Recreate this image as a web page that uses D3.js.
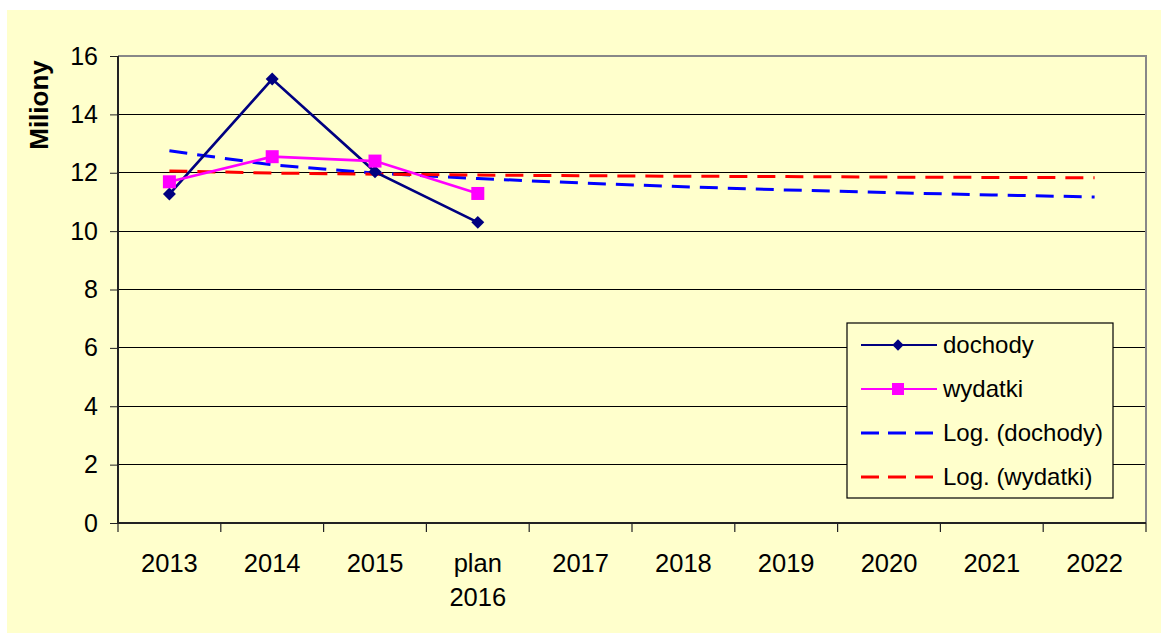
<!DOCTYPE html>
<html lang="pl">
<head>
    <meta charset="UTF-8">
    <script src="https://d3js.org/d3.v7.min.js"></script>
    <title>Dochody i wydatki</title>
    <style>
        body { margin: 0; background: #fff; }
        text { font-family: "Liberation Sans", Arial, sans-serif; fill: #000; }
    </style>
</head>
<body>
    <div id="canvas"></div>
<script>
    // data (millions)
    const categories = ["2013", "2014", "2015", "plan 2016", "2017", "2018", "2019", "2020", "2021", "2022"]
    const dochody = [11.27, 15.21, 12.03, 10.30]
    const wydatki = [11.69, 12.55, 12.40, 11.29]
    const trendDochody = [12.75, 12.27, 11.99, 11.80, 11.65, 11.52, 11.41, 11.32, 11.24, 11.17]
    const trendWydatki = [12.06, 11.99, 11.95, 11.92, 11.90, 11.88, 11.87, 11.85, 11.84, 11.83]
    const yTicks = [0, 2, 4, 6, 8, 10, 12, 14, 16]

    const W = 1161, H = 633
    const margin = {top: 56, right: 15, bottom: 110, left: 118}
    const gW = 1146 - margin.left
    const gH = 523 - margin.top

    const svg = d3.select("#canvas").append("svg").attr("width", W).attr("height", H)
    svg.append("rect").attr("x", 7).attr("y", 10).attr("width", W - 7).attr("height", H - 10)
        .attr("fill", "#ffffcc")

    const g = svg.append("g").attr("transform", `translate(${margin.left},${margin.top})`)

    const x = d3.scaleBand().domain(categories).range([0, gW])
    const y = d3.scaleLinear().domain([0, 16]).range([gH, 0])
    const cx = c => x(c) + x.bandwidth() / 2

    // gridlines
    g.selectAll(".grid").data(yTicks.filter(t => t > 0 && t < 16))
        .enter().append("line")
        .attr("x1", 0).attr("x2", gW)
        .attr("y1", d => y(d)).attr("y2", d => y(d))
        .attr("stroke", "#000").attr("stroke-width", 1)
        .attr("shape-rendering", "crispEdges")

    // plot area border (top / right gray)
    g.append("path")
        .attr("d", `M0,${y(16)}H${gW}V${gH}`)
        .attr("fill", "none").attr("stroke", "#888").attr("stroke-width", 2)

    // axes
    const yAxis = d3.axisLeft(y).tickValues(yTicks).tickSize(8).tickPadding(12)
    const gy = g.append("g").call(yAxis)
    gy.select(".domain").attr("stroke", "#222").attr("stroke-width", 2).attr("d", `M0,0V${gH}`)
    gy.selectAll(".tick line").attr("stroke", "#222")
    gy.selectAll("text").style("font-size", "25px").attr("fill", "#000")

    const gx = g.append("g").attr("transform", `translate(0,${gH})`)
    gx.append("line").attr("x1", 0).attr("x2", gW).attr("stroke", "#222").attr("stroke-width", 2)
    gx.selectAll(".xt").data(d3.range(categories.length + 1))
        .enter().append("line")
        .attr("x1", i => i * x.bandwidth()).attr("x2", i => i * x.bandwidth())
        .attr("y1", 0).attr("y2", 9)
        .attr("stroke", "#222").attr("stroke-width", 1.2)
    gx.selectAll(".xl").data(categories)
        .enter().append("text")
        .attr("text-anchor", "middle")
        .style("font-size", "25.5px")
        .attr("x", d => cx(d))
        .attr("y", 49)
        .each(function(d) {
            const parts = d.split(" ")
            d3.select(this).selectAll("tspan").data(parts).enter().append("tspan")
                .attr("x", cx(d)).attr("dy", (p, i) => i === 0 ? 0 : 34)
                .text(p => p)
        })

    svg.append("text")
        .attr("transform", "translate(48,105) rotate(-90)")
        .attr("text-anchor", "middle")
        .style("font-size", "26px").style("font-weight", "bold")
        .text("Miliony")

    // trend lines
    const line = d3.line().x((d, i) => cx(categories[i])).y(d => y(d))
    g.append("path").datum(trendDochody).attr("d", line)
        .attr("fill", "none").attr("stroke", "#0000ff").attr("stroke-width", 3)
        .attr("stroke-dasharray", "18,10")
    g.append("path").datum(trendWydatki).attr("d", line)
        .attr("fill", "none").attr("stroke", "#ff0000").attr("stroke-width", 3)
        .attr("stroke-dasharray", "18,10")

    // series
    g.append("path").datum(dochody).attr("d", line)
        .attr("fill", "none").attr("stroke", "#000080").attr("stroke-width", 2.7)
    g.append("path").datum(wydatki).attr("d", line)
        .attr("fill", "none").attr("stroke", "#ff00ff").attr("stroke-width", 2.7)

    const diamond = d3.symbol().type(d3.symbolSquare).size(84)
    g.selectAll(".dm").data(dochody).enter().append("path")
        .attr("d", diamond)
        .attr("transform", (d, i) => `translate(${cx(categories[i])},${y(d)}) rotate(45)`)
        .attr("fill", "#000080")
    g.selectAll(".sq").data(wydatki).enter().append("rect")
        .attr("x", (d, i) => cx(categories[i]) - 6.5).attr("y", d => y(d) - 6.5)
        .attr("width", 13).attr("height", 13)
        .attr("fill", "#ff00ff")

    // legend
    const legendItems = [
        {name: "dochody", color: "#000080", dash: null, marker: "diamond"},
        {name: "wydatki", color: "#ff00ff", dash: null, marker: "square"},
        {name: "Log. (dochody)", color: "#0000ff", dash: "18,9", marker: null},
        {name: "Log. (wydatki)", color: "#ff0000", dash: "18,9", marker: null}
    ]
    const lg = svg.append("g").attr("transform", "translate(847,323)")
    lg.append("rect").attr("width", 266).attr("height", 175)
        .attr("fill", "#ffffcc").attr("stroke", "#000").attr("stroke-width", 1.2)
    const row = lg.selectAll(".row").data(legendItems).enter().append("g")
        .attr("transform", (d, i) => `translate(0,${22 + i * 44})`)
    row.append("line").attr("x1", 14).attr("x2", 90)
        .attr("stroke", d => d.color)
        .attr("stroke-width", d => d.dash ? 3 : 2)
        .attr("stroke-dasharray", d => d.dash)
    row.filter(d => d.marker === "diamond").append("path")
        .attr("d", d3.symbol().type(d3.symbolSquare).size(64))
        .attr("transform", "translate(51,0) rotate(45)")
        .attr("fill", d => d.color)
    row.filter(d => d.marker === "square").append("rect")
        .attr("x", 45).attr("y", -6).attr("width", 12).attr("height", 12)
        .attr("fill", d => d.color)
    row.append("text").attr("x", 96).attr("dy", "0.35em")
        .style("font-size", "24px").text(d => d.name)
</script>
</body>
</html>
